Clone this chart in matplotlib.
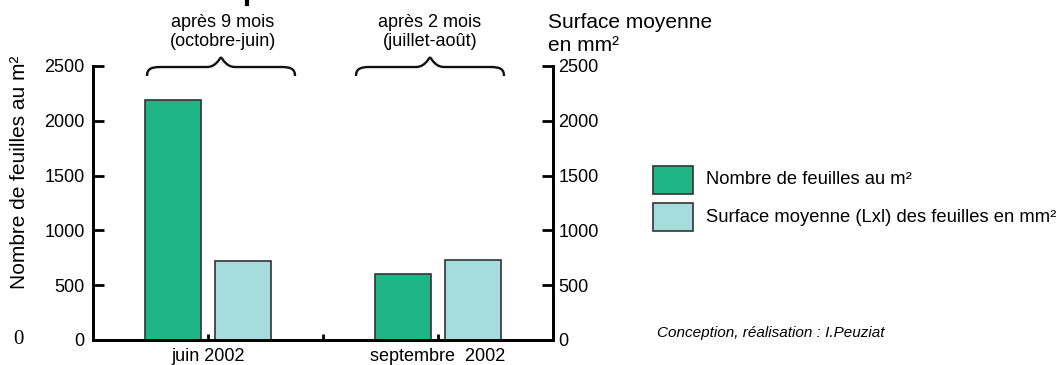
import matplotlib
matplotlib.use("Agg")
import matplotlib.pyplot as plt
from matplotlib.path import Path
from matplotlib.patches import PathPatch, Rectangle
from matplotlib.lines import Line2D

plt.rcParams['font.family'] = ['Liberation Sans', 'DejaVu Sans']

# donnees
periodes = ['juin 2002', 'septembre  2002']
nb_feuilles = [2190, 600]          # nombre de feuilles au m2
surface_moy = [720, 730]           # surface moyenne en mm2
durees = ['après 9 mois\n(octobre-juin)', 'après 2 mois\n(juillet-août)']
yticks = [0, 500, 1000, 1500, 2000, 2500]
legende = ['Nombre de feuilles au m²', 'Surface moyenne (Lxl) des feuilles en mm²']

vert = '#1fb584'
bleu = '#a6dcdc'
bord = '#333333'

W, H = 1061, 365
fig = plt.figure(figsize=(W / 100, H / 100), dpi=100)


def px(x, y):
    # pixels (origine en haut a gauche) -> fraction de figure
    return x / W, 1 - y / H


ax = fig.add_axes([93 / W, 25 / H, 460 / W, 274 / H])
x = [0, 1]
off, larg = 0.152, 0.242
ax.bar([i - off for i in x], nb_feuilles, larg, color=vert, edgecolor=bord, linewidth=1.2, zorder=3)
ax.bar([i + off for i in x], surface_moy, larg, color=bleu, edgecolor=bord, linewidth=1.2, zorder=3)

ax.set_xlim(-0.5, 1.5)
ax.set_ylim(0, 2500)
ax.set_xticks([0, 0.5, 1])
ax.set_xticklabels([periodes[0], '', periodes[1]], fontsize=13)
ax.tick_params(axis='x', direction='in', length=4, width=2, pad=6)
ax.set_yticks(yticks)
ax.tick_params(axis='y', direction='in', length=8, width=2, labelsize=13, pad=6)
ax.spines['top'].set_visible(False)
for s in ['left', 'right', 'bottom']:
    ax.spines[s].set_linewidth(2)

ax2 = ax.twinx()
ax2.set_ylim(0, 2500)
ax2.set_yticks(yticks)
ax2.tick_params(axis='y', direction='in', length=8, width=2, labelsize=13, pad=4)
ax2.spines['top'].set_visible(False)
for s in ['left', 'right', 'bottom']:
    ax2.spines[s].set_linewidth(2)

fig.text(*px(20, 172), 'Nombre de feuilles au m²', rotation=90, ha='center', va='center', fontsize=15)
fig.text(*px(18, 340), '0', ha='center', va='center', fontsize=15, family='Liberation Serif')
fig.text(*px(548, 34), 'Surface moyenne\nen mm²', ha='left', va='center', fontsize=15, linespacing=1.3)


# accolades au-dessus des groupes
def accolade(x0, x1, xt, yb=76, yf=67, yt=57):
    verts, codes = [], []
    for a, s in [(x0, 1), (x1, -1)]:
        pts = [(a, yb), (a, yf + 2), (a + s * 4, yf), (a + s * 14, yf),
               (xt - s * 14, yf),
               (xt - s * 6, yf), (xt - s * 2, yt + 3), (xt, yt)]
        c = [Path.MOVETO, Path.CURVE4, Path.CURVE4, Path.CURVE4,
             Path.LINETO, Path.CURVE4, Path.CURVE4, Path.CURVE4]
        verts += [px(*p) for p in pts]
        codes += c
    fig.patches.append(PathPatch(Path(verts, codes), fill=False, lw=1.7,
                                 edgecolor='#111111', transform=fig.transFigure))


accolade(147, 295, 221)
accolade(356, 504, 430)
fig.text(*px(223, 32), durees[0], ha='center', va='center', fontsize=13, linespacing=1.2)
fig.text(*px(430, 32), durees[1], ha='center', va='center', fontsize=13, linespacing=1.2)

# bout du titre coupe en haut
fig.lines.append(Line2D([247 / W, 247 / W], [1, 1 - 4 / H], lw=3, color='black',
                        transform=fig.transFigure))

# legende
for (couleur, lab, y0) in [(vert, legende[0], 166), (bleu, legende[1], 203)]:
    fig.patches.append(Rectangle(px(653, y0 + 28), 40 / W, 28 / H, facecolor=couleur,
                                 edgecolor=bord, lw=1.2, transform=fig.transFigure))
    fig.text(*px(706, y0 + 14), lab, ha='left', va='center', fontsize=13.2)

fig.text(*px(657, 333), 'Conception, réalisation : I.Peuziat', ha='left', va='center',
         fontsize=11, style='italic')

fig.savefig('out.png', dpi=100)
